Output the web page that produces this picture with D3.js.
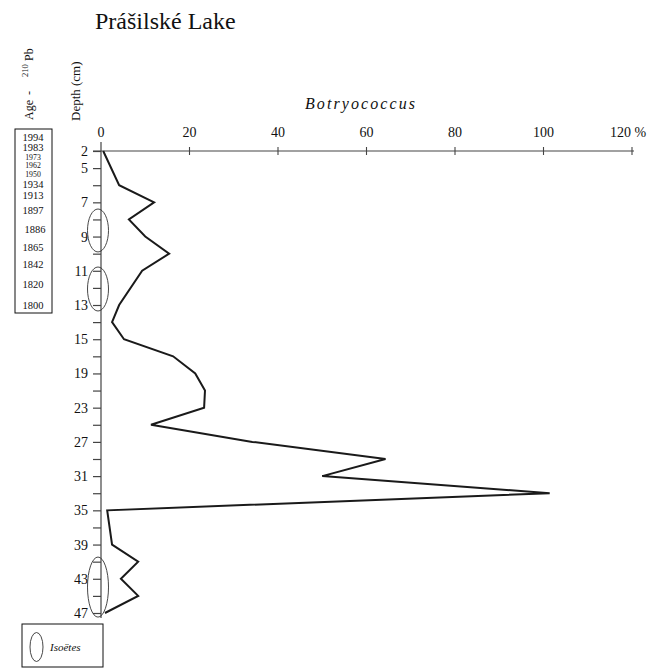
<!DOCTYPE html>
<html><head><meta charset="utf-8">
<script src="https://cdn.jsdelivr.net/npm/d3@7"></script>
<style>
body{margin:0;background:#fff;}
svg text{font-family:"Liberation Serif","Times New Roman",serif;fill:#111;}
</style></head>
<body><svg id="chart" width="659" height="669" font-family="Liberation Serif, serif"></svg>
<script>
// depth sample positions (cm) along the core, shown at equal spacing
const depthSamples = ["2","5","6","7","8","9","10","11","12","13","14","15","17","19","21","23","25","27","29","31","33","35","37","39","41","43","45","47"];
const depthLabels = ["2","5","7","9","11","13","15","19","23","27","31","35","39","43","47"];
// Botryococcus (%) by depth
const seriesDepth = ["2","6","7","8","9","10","11","13","14","15","17","19","21","23","25","27","29","31","33","35","39","41","43","45","47"];
const seriesValue = [0.5,4.1,12.0,6.3,10.0,15.4,9.3,4.1,2.5,5.2,16.3,21.3,23.5,23.3,11.3,34.2,64.3,50.0,101.4,1.4,2.5,8.4,4.5,8.4,0.9];
const xTicks = [0,20,40,60,80,100,120];
// 210Pb ages and their position expressed in sample index units
const ages = ["1994","1983","1973","1962","1950","1934","1913","1897","1886","1865","1842","1820","1800"];
const ageIndex = [-0.82,-0.234,0.339,0.847,1.356,1.958,2.6,3.45,4.56,5.61,6.60,7.77,9.00];
// Isoëtes occurrence (sample index ranges)
const isoetesRanges = [[3.39,5.90],[6.78,9.35],[23.73,27.24]];

const svg = d3.select("#chart");
const y = d3.scalePoint().domain(depthSamples).range([151,613]);
const yIdx = d3.scaleLinear().domain([0, depthSamples.length-1]).range([151,613]);
const x = d3.scaleLinear().domain([0,120]).range([101,632]);
const axisColor = "#444";

// title
svg.append("text").attr("x",95).attr("y",29).attr("font-size",24).text("Prášilské Lake");

// rotated labels
const ageLab = svg.append("text").attr("transform","translate(33,120) rotate(-90)").attr("font-size",12);
ageLab.append("tspan").attr("x",0).text("Age");
ageLab.append("tspan").attr("x",25).text("-");
ageLab.append("tspan").attr("x",43).attr("dy",-5).attr("font-size",8.5).text("210");
ageLab.append("tspan").attr("x",59).attr("dy",5).text("Pb");
svg.append("text").attr("transform","translate(80,121) rotate(-90)").attr("font-size",13).text("Depth (cm)");

// age box
const ageTop = 129, ageBot = 313;
svg.append("rect").attr("x",15).attr("y",ageTop).attr("width",37).attr("height",ageBot-ageTop)
  .attr("fill","none").attr("stroke","#111").attr("stroke-width",1);
svg.append("g").selectAll("text").data(ages).join("text")
  .attr("x",(d,i)=> i===8 ? 35 : 33).attr("y",(d,i)=>yIdx(ageIndex[i]))
  .attr("dy","0.35em").attr("text-anchor","middle")
  .attr("font-size",(d,i)=> (i>=2 && i<=4) ? 7.8 : 10.5).text(d=>d);

// depth axis
const yAxis = d3.axisLeft(y).tickSize(8).tickPadding(5)
  .tickFormat(d => depthLabels.includes(d) ? d : "");
const gy = svg.append("g").attr("transform","translate(101,0)").call(yAxis);
gy.attr("font-family","Liberation Serif, serif");
gy.select(".domain").remove();
gy.selectAll(".tick line").attr("stroke",axisColor).attr("stroke-width",1.2);
gy.selectAll(".tick text").attr("font-size",14).attr("fill","#111");
svg.append("line").attr("x1",101).attr("x2",101).attr("y1",142).attr("y2",618)
  .attr("stroke",axisColor).attr("stroke-width",1.2);

// top axis
svg.append("line").attr("x1",93).attr("x2",634).attr("y1",151).attr("y2",151)
  .attr("stroke",axisColor).attr("stroke-width",1.2);
const gx = svg.append("g");
gx.selectAll("line").data(xTicks.slice(1)).join("line")
  .attr("x1",d=>x(d)).attr("x2",d=>x(d)).attr("y1",147).attr("y2",155)
  .attr("stroke",axisColor).attr("stroke-width",1.1);
gx.selectAll("text").data(xTicks).join("text")
  .attr("x",d=> d===120 ? x(d)-4 : x(d)).attr("y",137).attr("text-anchor","middle").attr("font-size",14)
  .text(d=> d===120 ? "120 %" : d);

// series name
svg.append("text").attr("x",305).attr("y",109).attr("font-size",16).attr("font-style","italic")
  .attr("textLength",110).attr("lengthAdjust","spacing").text("Botryococcus");

// Isoëtes ellipses
svg.append("g").selectAll("ellipse").data(isoetesRanges).join("ellipse")
  .attr("cx",98).attr("cy",d=>(yIdx(d[0])+yIdx(d[1]))/2)
  .attr("rx",10.5).attr("ry",d=>(yIdx(d[1])-yIdx(d[0]))/2)
  .attr("fill","none").attr("stroke","#333").attr("stroke-width",0.9);

// series line
const pts = seriesDepth.map((d,i)=>[x(seriesValue[i]), y(d)]);
svg.append("path").attr("d", d3.line()(pts)).attr("fill","none")
  .attr("stroke","#1a1a1a").attr("stroke-width",2).attr("stroke-linejoin","miter");

// legend
svg.append("rect").attr("x",22).attr("y",624).attr("width",81).attr("height",43)
  .attr("fill","none").attr("stroke","#111").attr("stroke-width",1);
svg.append("ellipse").attr("cx",36.5).attr("cy",647).attr("rx",6.5).attr("ry",14.5)
  .attr("fill","none").attr("stroke","#333").attr("stroke-width",0.9);
svg.append("text").attr("x",50).attr("y",651).attr("font-size",11).attr("font-style","italic").text("Isoëtes");
</script></body></html>
